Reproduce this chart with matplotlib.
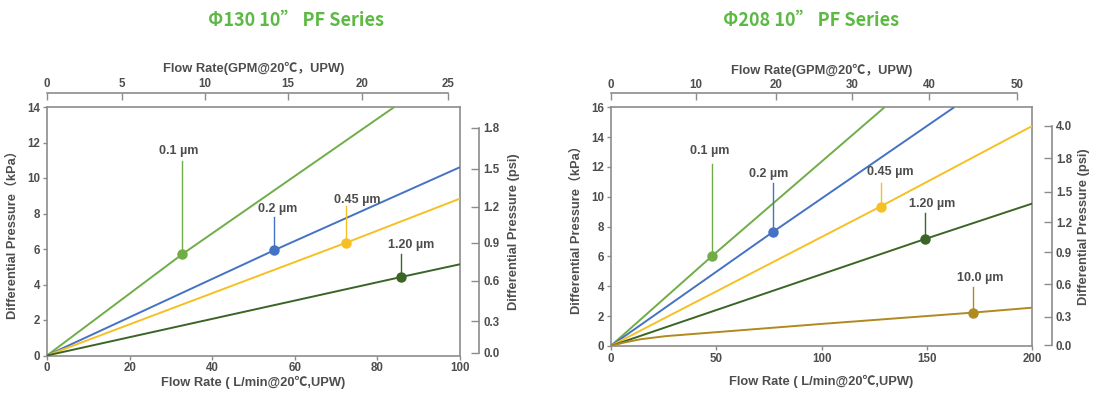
import matplotlib
matplotlib.use("Agg")
import matplotlib.pyplot as plt

plt.rcParams['font.family'] = ['Liberation Sans', 'Noto Sans CJK SC', 'DejaVu Sans']

# ---------------- data ----------------
titles = ["Φ130 10” PF Series", "Φ208 10” PF Series"]
title_color = "#5cb944"

# Left panel (Φ130)
L_xlim = [0, 100]
L_ylim = [0, 14]
L_xticks = [0, 20, 40, 60, 80, 100]
L_yticks = [0, 2, 4, 6, 8, 10, 12, 14]
L_gpm_pos = [0, 18.2, 38.3, 58.3, 76.2, 97.2]          # in L/min units
L_gpm_labels = ["0", "5", "10", "15", "20", "25"]
L_psi_pos = [0.15, 1.94, 4.20, 6.36, 8.39, 10.52, 12.82]  # in kPa units
L_psi_labels = ["0.0", "0.3", "0.6", "0.9", "1.2", "1.5", "1.8"]

L_names = ["0.1 µm", "0.2 µm", "0.45 µm", "1.20 µm"]
L_x = [[0, 32.7, 84.1],
       [0, 55.0, 100],
       [0, 72.5, 100],
       [0, 85.7, 100]]
L_y = [[0, 5.70, 14.0],
       [0, 5.93, 10.61],
       [0, 6.36, 8.84],
       [0, 4.42, 5.14]]
L_marker = [(32.7, 5.70), (55.0, 5.93), (72.5, 6.36), (85.7, 4.42)]
L_text = [(31.8, 11.5), (55.8, 8.26), (75.0, 8.77), (88.1, 6.21)]
L_line_top = [10.93, 7.83, 8.43, 5.72]

# Right panel (Φ208)
R_xlim = [0, 200]
R_ylim = [0, 16]
R_xticks = [0, 50, 100, 150, 200]
R_yticks = [0, 2, 4, 6, 8, 10, 12, 14, 16]
R_gpm_pos = [0, 40.5, 78.5, 114.6, 151.0, 192.7]
R_gpm_labels = ["0", "10", "20", "30", "40", "50"]
R_psi_pos = [0.04, 1.97, 4.14, 6.27, 8.28, 10.34, 12.60, 14.75]
R_psi_labels = ["0.0", "0.3", "0.6", "0.9", "1.2", "1.5", "1.8", "4.0"]

R_names = ["0.1 µm", "0.2 µm", "0.45 µm", "1.20 µm", "10.0 µm"]
R_x = [[0, 48.0, 129.9],
       [0, 76.8, 162.9],
       [0, 128.0, 200],
       [0, 148.9, 200],
       [0, 6, 14, 26, 100, 172.0, 200]]
R_y = [[0, 6.02, 16.0],
       [0, 7.63, 16.0],
       [0, 9.35, 14.75],
       [0, 7.16, 9.55],
       [0, 0.22, 0.45, 0.66, 1.48, 2.24, 2.57]]
R_marker = [(48.0, 6.02), (76.8, 7.63), (128.0, 9.35), (148.9, 7.16), (172.0, 2.24)]
R_text = [(46.8, 13.05), (75.1, 11.55), (132.8, 11.66), (152.7, 9.53), (175.5, 4.59)]
R_line_top = [12.2, 10.92, 10.92, 8.9, 3.98]

colors = ["#70ad47", "#4472c4", "#f6c025", "#3b6527", "#b08a1e"]

xlabel = "Flow Rate ( L/min@20℃,UPW)"
toplabel = "Flow Rate(GPM@20℃，UPW)"
ylabel = "Differential Pressure（kPa）"
ylabel2 = "Differential Pressure (psi)"

# ---------------- style ----------------
spine_c = "#8c8c8c"
text_c = "#4d4d4d"
tick_fs = 8.3
lab_fs = 9.3
ann_fs = 9.0
FAM = ['Liberation Sans', 'Noto Sans CJK SC', 'DejaVu Sans']

fig = plt.figure(figsize=(10.98, 3.99), dpi=100)
W, H = 1098.0, 399.0


def panel(rect, xlim, ylim, xticks, yticks, gpm_pos, gpm_labels, psi_pos, psi_labels,
          names, xs, ys, markers, texts, tops, title, title_x, ylab_x, ylab2_x, xlab_y, toplab_y):
    ax = fig.add_axes(rect)
    ax.set_xlim(xlim)
    ax.set_ylim(ylim)
    for s in ax.spines.values():
        s.set_color(spine_c)
        s.set_linewidth(1.2)
    ax.set_xticks(xticks)
    ax.set_yticks(yticks)
    ax.tick_params(axis='both', direction='out', length=3, width=1, color=spine_c,
                   labelsize=tick_fs, labelcolor=text_c, pad=2)
    for lab in ax.get_xticklabels() + ax.get_yticklabels():
        lab.set_fontweight('bold')

    for i, name in enumerate(names):
        c = colors[i]
        ax.plot(xs[i], ys[i], color=c, lw=1.4, solid_capstyle='butt', zorder=3)
        mx, my = markers[i]
        ax.plot([mx, mx], [my, tops[i]], color=c, lw=1.0, zorder=3)
        ax.plot([mx], [my], 'o', color=c, ms=6.5, zorder=4)
        tx, ty = texts[i]
        ax.text(tx, ty, name, ha='center', va='center', fontsize=ann_fs,
                fontweight='bold', color=text_c)

    cx = rect[0] + rect[2] / 2
    fig.text(cx, 1 - xlab_y / H, xlabel, ha='center', va='center', fontsize=lab_fs,
             fontweight='bold', color=text_c, family=FAM)
    fig.text(cx, 1 - toplab_y / H, toplabel, ha='center', va='center', fontsize=lab_fs,
             fontweight='bold', color=text_c, family=FAM)

    fig.text(ylab_x / W, rect[1] + rect[3] / 2, ylabel, rotation=90, ha='center', va='center',
             fontsize=lab_fs, fontweight='bold', color=text_c, family=FAM)

    # top GPM axis
    axt = ax.twiny()
    axt.set_xlim(xlim)
    for k, s in axt.spines.items():
        s.set_visible(k == 'top')
    axt.spines['top'].set_position(('outward', 10))
    axt.spines['top'].set_bounds(gpm_pos[0], gpm_pos[-1])
    axt.spines['top'].set_color(spine_c)
    axt.spines['top'].set_linewidth(1.2)
    axt.set_xticks(gpm_pos, gpm_labels)
    axt.tick_params(axis='x', direction='in', length=5, width=1, color=spine_c,
                    labelsize=tick_fs, labelcolor=text_c, pad=2)
    for lab in axt.get_xticklabels():
        lab.set_fontweight('bold')

    # right psi axis
    axr = ax.twinx()
    axr.set_ylim(ylim)
    for k, s in axr.spines.items():
        s.set_visible(k == 'right')
    axr.spines['right'].set_position(('outward', 14))
    axr.spines['right'].set_bounds(psi_pos[0], psi_pos[-1])
    axr.spines['right'].set_color(spine_c)
    axr.spines['right'].set_linewidth(1.2)
    axr.set_yticks(psi_pos, psi_labels)
    axr.tick_params(axis='y', direction='in', length=6, width=1, color=spine_c,
                    labelsize=tick_fs, labelcolor=text_c, pad=3)
    for lab in axr.get_yticklabels():
        lab.set_fontweight('bold')
    fig.text(ylab2_x / W, rect[1] + rect[3] / 2, ylabel2, rotation=90, ha='center', va='center',
             fontsize=lab_fs, fontweight='bold', color=text_c)

    fig.text(title_x / W, 1 - 20 / H, title, ha='center', va='center',
             fontsize=13, fontweight='bold', color=title_color,
             family=['Noto Sans CJK SC', 'DejaVu Sans'])
    return ax


panel([47 / W, 1 - 355.5 / H, 413 / W, 248.5 / H], L_xlim, L_ylim, L_xticks, L_yticks,
      L_gpm_pos, L_gpm_labels, L_psi_pos, L_psi_labels, L_names, L_x, L_y, L_marker, L_text,
      L_line_top, titles[0], 296, 13, 514, 382, 68)

panel([610.7 / W, 1 - 346 / H, 421.6 / W, 238.7 / H], R_xlim, R_ylim, R_xticks, R_yticks,
      R_gpm_pos, R_gpm_labels, R_psi_pos, R_psi_labels, R_names, R_x, R_y, R_marker, R_text,
      R_line_top, titles[1], 811, 577, 1084, 381, 70)

fig.savefig("out.png", dpi=100, facecolor="white")
